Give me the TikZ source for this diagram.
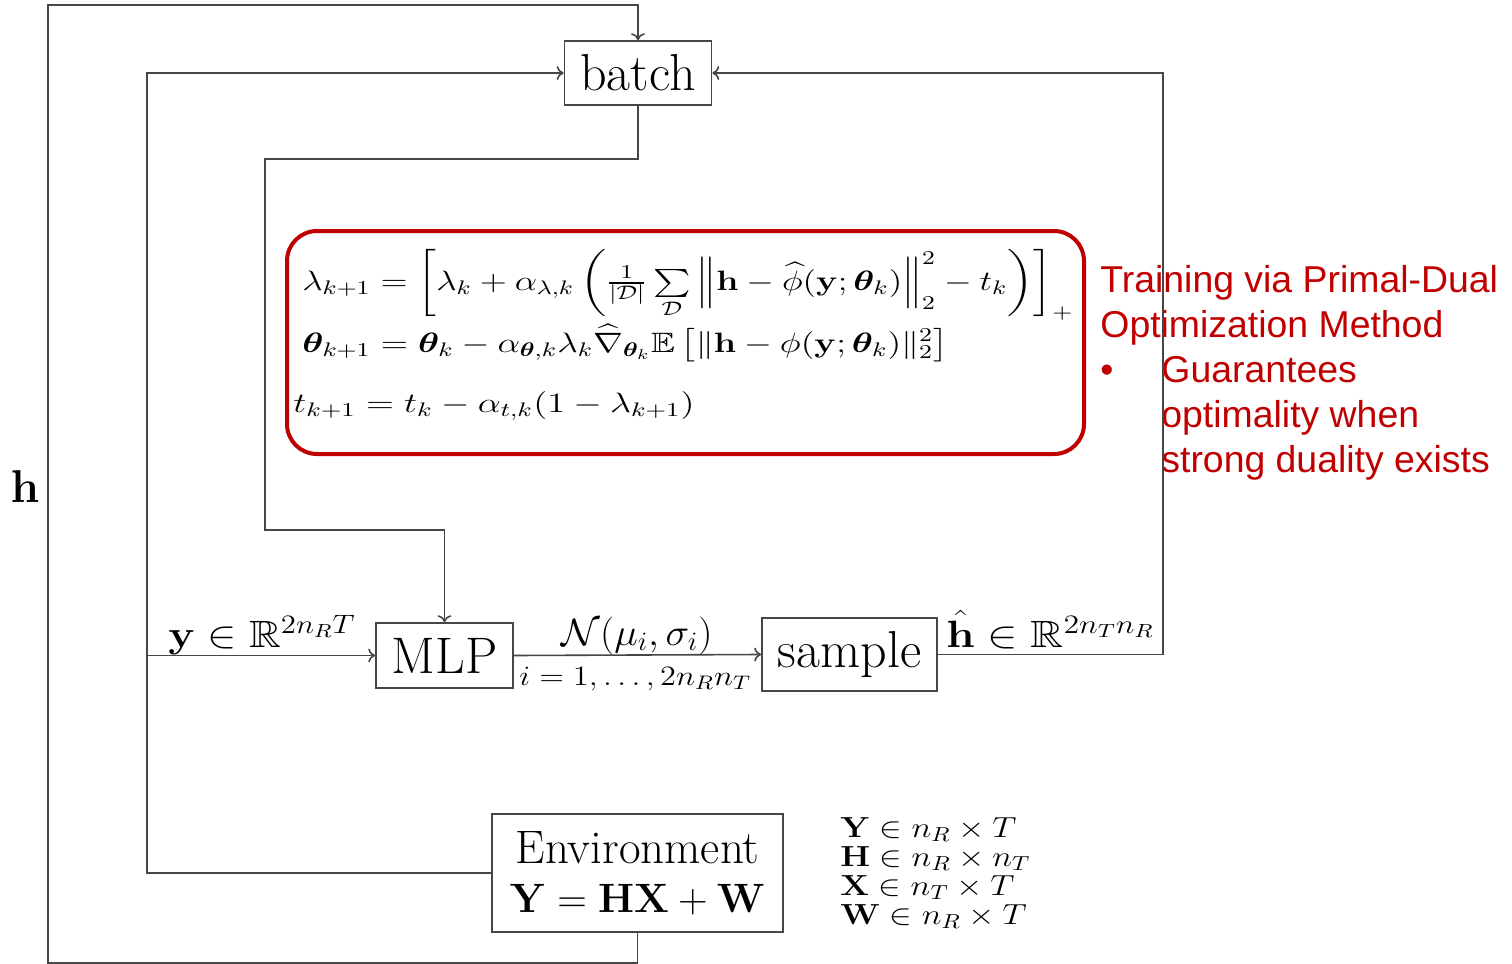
\RequirePackage{fix-cm}
\documentclass[tikz,border=0pt]{standalone}
\usepackage{amsmath,amssymb,bm,graphicx}
\usepackage[no-math]{fontspec}
\newfontfamily\arialfont{Liberation Sans}
\usetikzlibrary{arrows.meta}
\definecolor{linec}{RGB}{70,70,70}
\definecolor{redc}{RGB}{192,0,0}
\newcommand{\fsz}[1]{\fontsize{#1}{#1}\selectfont}
\newcommand{\wide}[2]{\scalebox{#1}[1]{#2}}
\begin{document}
\begin{tikzpicture}[x=0.5pt,y=-0.5pt,
  box/.style={draw=linec, line width=0.8pt, inner sep=0pt, fill=white, align=center},
  wire/.style={draw=linec, line width=0.8pt},
  arr/.style={wire, -{To[length=3.5pt,width=7pt]}},
  lbl/.style={inner sep=0pt, anchor=base west},
  eq/.style={inner sep=0pt, anchor=base west, font=\fsz{14}},
  note/.style={inner sep=0pt, anchor=base west, text=redc, font=\arialfont\fsz{18.7}}]
\useasboundingbox (0,0) rectangle (1512,964);
% boxes
\node[box, minimum width=73.5pt, minimum height=32pt, font=\fsz{26}] (batch) at (638,73) {batch};
\node[box, minimum width=68.5pt, minimum height=32.5pt, font=\fsz{25.7}] (mlp) at (444.5,655.5) {MLP};
\node[box, minimum width=87.5pt, minimum height=36.5pt, font=\fsz{26}] (sample) at (849.5,654.5) {sample};
\node[box, minimum width=145.5pt, minimum height=59pt, font=\fsz{23.5}] (env) at (637.5,873)
  {Environment\\[1pt] {\fsz{20.5}$\mathbf{Y}=\mathbf{HX}+\mathbf{W}$}};
% red box
\node[draw=redc, line width=2pt, rounded corners=15pt, minimum width=398.5pt, minimum height=111.5pt, inner sep=0pt] (opt) at (685.5,342.5) {};
\node[eq] (eq1) at (302,290) {\wide{1.27}{$\lambda_{k+1}=\left[\lambda_k+\alpha_{\lambda,k}\left(\frac{1}{|\mathcal{D}|}\sum\limits_{\mathcal{D}}\left\|\mathbf{h}-\widehat{\phi}(\mathbf{y};\bm{\theta}_k)\right\|_2^2-t_k\right)\right]_+$}};
\node[eq] (eq2) at (302,352) {\wide{1.28}{$\bm{\theta}_{k+1}=\bm{\theta}_k-\alpha_{\bm{\theta},k}\lambda_k\widehat{\nabla}_{\bm{\theta}_k}\mathbb{E}\left[\|\mathbf{h}-\phi(\mathbf{y};\bm{\theta}_k)\|_2^2\right]$}};
\node[eq] (eq3) at (293,412) {\wide{1.31}{$t_{k+1}=t_k-\alpha_{t,k}(1-\lambda_{k+1})$}};
% red notes
\node[note] (n1) at (1100,292) {Training via Primal-Dual};
\node[note] (n2) at (1100,337) {Optimization Method};
\node[note] (nb) at (1100,382) {•};
\node[note] (n3) at (1161,382) {Guarantees};
\node[note] (n4) at (1161,427) {optimality when};
\node[note] (n5) at (1161,472) {strong duality exists};
% dims
\node[inner sep=0pt, anchor=north west, align=left, font=\fsz{14.5}] (dims) at (840,817)
  {\baselineskip=13.2pt \wide{1.17}{$\mathbf{Y}\in n_R\times T$}\\ \wide{1.17}{$\mathbf{H}\in n_R\times n_T$}\\ \wide{1.17}{$\mathbf{X}\in n_T\times T$}\\ \wide{1.17}{$\mathbf{W}\in n_R\times T$}};
% coordinates
\coordinate (o1) at (637.5,963);
\coordinate (o2) at (48,963);
\coordinate (o3) at (48,5);
\coordinate (o4) at (638,5);
\coordinate (l1) at (147,873);
\coordinate (l2) at (147,73);
\coordinate (yb) at (147,655.5);
\coordinate (r1) at (1163,654.5);
\coordinate (r2) at (1163,73);
\coordinate (m1) at (638,159);
\coordinate (m2) at (265,159);
\coordinate (m3) at (265,530);
\coordinate (m4) at (444.5,530);
% connectors
\draw[arr] (env.south) -- (o1) -- (o2) -- (o3) -- (o4) -- (batch.north);
\draw[arr] (env.west) -- (l1) -- (l2) -- (batch.west);
\draw[arr] (yb) -- (mlp.west);
\draw[arr] (sample.east) -- (r1) -- (r2) -- (batch.east);
\draw[arr] (batch.south) -- (m1) -- (m2) -- (m3) -- (m4) -- (mlp.north);
\draw[arr] (mlp.east) -- (sample.west);
% labels
\node[inner sep=0pt, font=\fsz{23}] (hl) at (25,487) {$\mathbf{h}$};
\node[lbl, font=\fsz{19}] (yl) at (168,647) {\wide{1.16}{$\mathbf{y}\in\mathbb{R}^{2n_RT}$}};
\node[inner sep=0pt, anchor=base, font=\fsz{19}] (nl) at (637,645) {\wide{1.05}{$\mathcal{N}(\mu_i,\sigma_i)$}};
\node[lbl, font=\fsz{14}] (il) at (519,685) {\wide{1.16}{$i=1,\ldots,2n_Rn_T$}};
\node[lbl, font=\fsz{19}] (hh) at (946,647) {\wide{1.2}{$\hat{\mathbf{h}}\in\mathbb{R}^{2n_Tn_R}$}};
\end{tikzpicture}
\end{document}
